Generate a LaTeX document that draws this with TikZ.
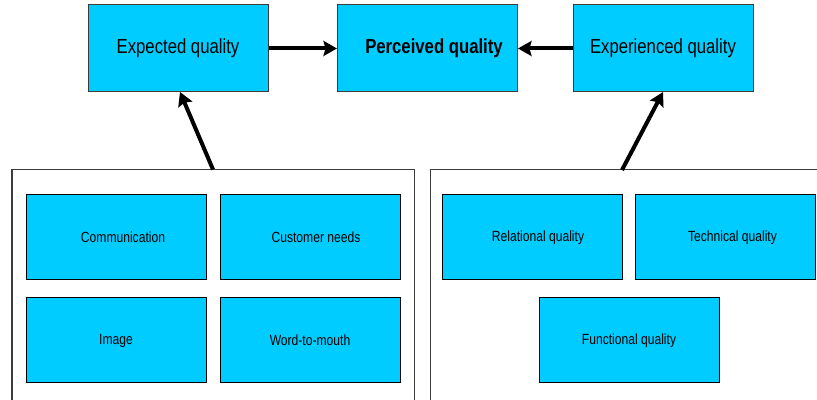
\documentclass[tikz,border=0pt]{standalone}
\usepackage{fontspec}
\setmainfont{Liberation Sans}[FakeStretch=0.82]
\usetikzlibrary{arrows.meta}
\definecolor{boxcyan}{HTML}{00CCFF}
\definecolor{boxedge}{HTML}{3C3C3C}
\tikzset{
  qualitybox/.style={draw=boxedge, line width=0.02cm, fill=boxcyan, minimum width=3.6cm, minimum height=1.74cm, inner sep=0pt, font=\fontsize{11.6}{13}\selectfont},
  factorbox/.style={draw=black, line width=0.02cm, fill=boxcyan, minimum width=3.6cm, minimum height=1.7cm, inner sep=0pt, font=\fontsize{8.4}{10}\selectfont},
  groupbox/.style={draw=boxedge, line width=0.02cm, minimum width=8.04cm, minimum height=4.8cm, inner sep=0pt},
  qualityarrow/.style={line width=0.08cm, -{Stealth[length=0.27cm, width=0.3cm, inset=0.04cm]}}
}
\begin{document}
\begin{tikzpicture}
            \clip (0,0) rectangle (16.340000,8.000000);
            
            % Groups of factors
            \node [groupbox] (expgroup) at (4.260000,2.200000) {};%
            \node [groupbox] (expergroup) at (12.620000,2.200000) {};%
            
            % Top row of qualities
            \node [qualitybox] (expected) at (3.560000,7.030000) {Expected quality};%
            \node [qualitybox] (perceived) at (8.550000,7.030000) {\hspace{0.26cm}\bfseries Perceived quality};%
            \node [qualitybox] (experienced) at (13.260000,7.030000) {Experienced quality};%
            
            % Factors of expected quality
            \node [factorbox] (communication) at (2.320000,3.250000) {\hspace{0.28cm}Communication};%
            \node [factorbox] (needs) at (6.200000,3.250000) {\hspace{0.24cm}Customer needs};%
            \node [factorbox] (image) at (2.320000,1.190000) {Image};%
            \node [factorbox] (mouth) at (6.200000,1.190000) {Word-to-mouth};%
            
            % Factors of experienced quality
            \node [factorbox] (relational) at (10.640000,3.250000) {\hspace{0.24cm}Relational quality};%
            \node [factorbox] (technical) at (14.510000,3.250000) {\hspace{0.28cm}Technical quality};%
            \node [factorbox] (functional) at (12.580000,1.190000) {Functional quality};%
            
            % Arrow start points on the groups
            \coordinate (expstart) at (expgroup.north);%
            \coordinate (experstart) at (12.440000,4.600000);%
            \coordinate (expend) at (3.600000,6.160000);%
            \coordinate (experend) at (13.260000,6.160000);%
            
            % Drawing arrows into perceived quality
            \draw [qualityarrow] (expected.east) -- (perceived.west);%
            \draw [qualityarrow] (experienced.west) -- (perceived.east);%
            
            % Drawing arrows from the groups
            \draw [qualityarrow] (expstart) -- (expend);%
            \draw [qualityarrow] (experstart) -- (experend);%
        \end{tikzpicture}
\end{document}
